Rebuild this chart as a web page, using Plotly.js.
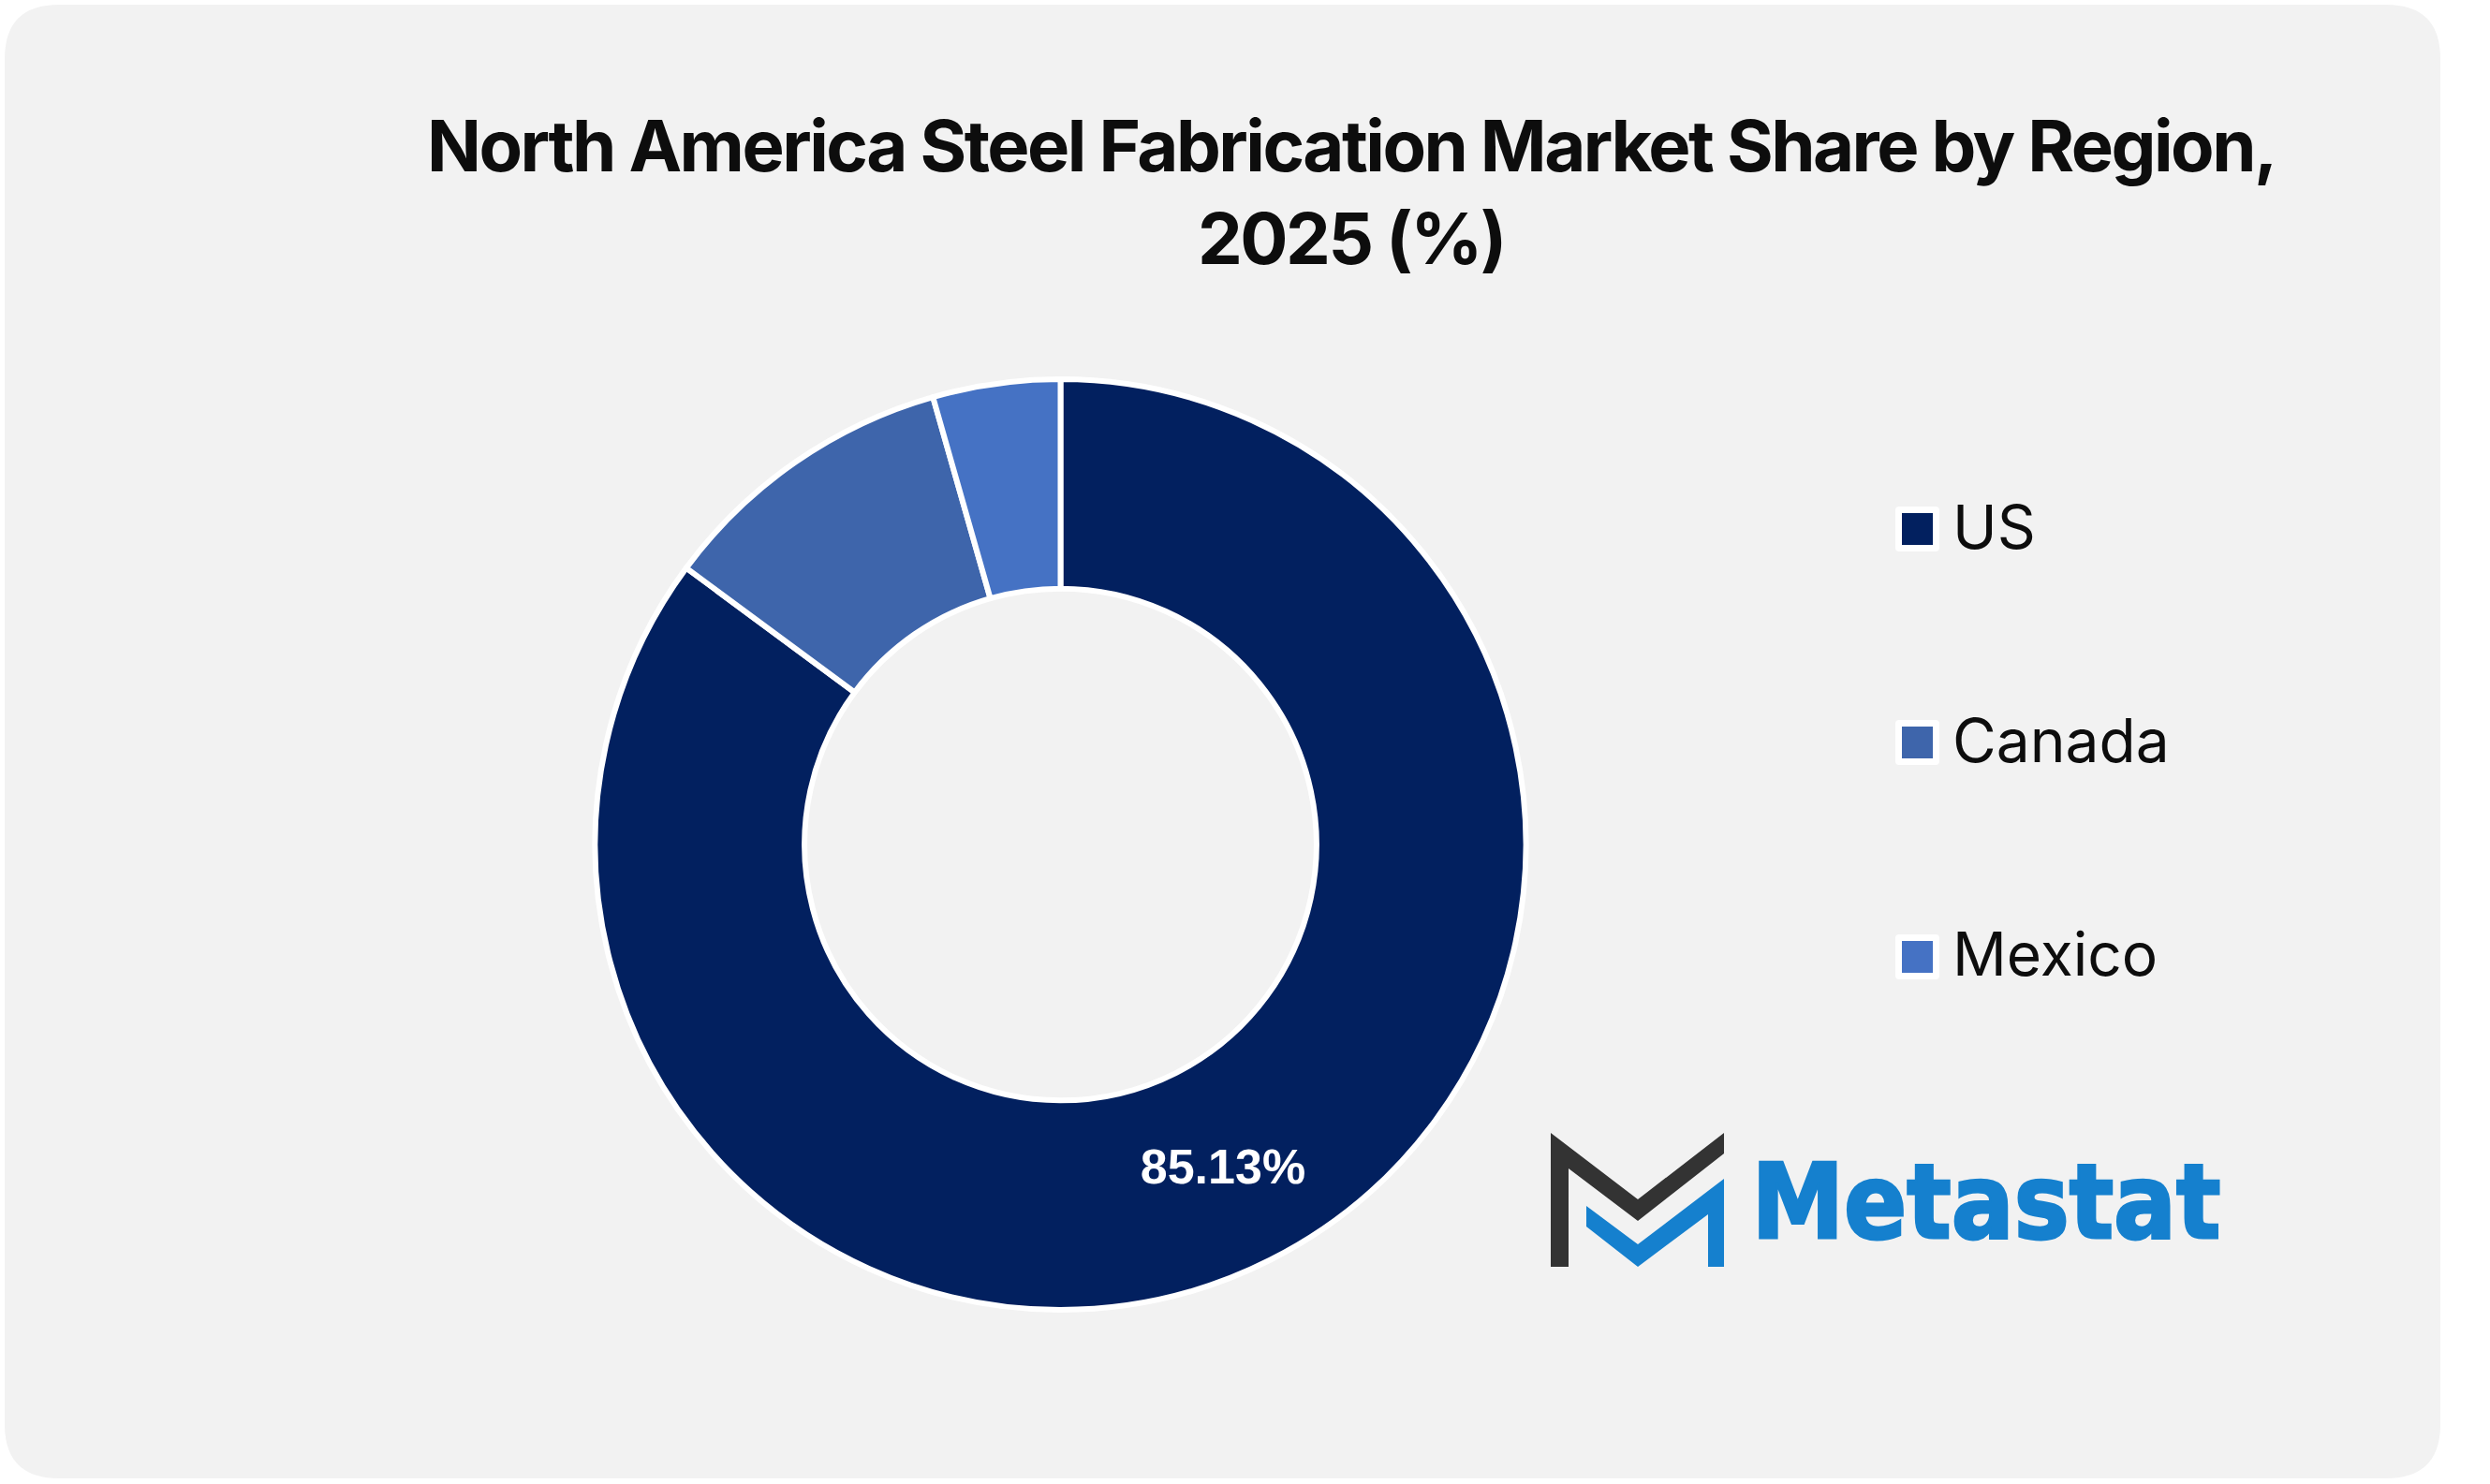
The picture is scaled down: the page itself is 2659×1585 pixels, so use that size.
<!DOCTYPE html>
<html>
<head>
<meta charset="utf-8">
<script src="https://cdn.plot.ly/plotly-3.0.1.min.js"></script>
<style>html,body{margin:0;padding:0;background:#fff;}#chart{width:2659px;height:1585px;}
.gtitle{letter-spacing:-2.5px;}</style>
</head>
<body>
<div id="chart"></div>
<script>
const regions = ['US', 'Canada', 'Mexico'];
const shares = [85.13, 10.45, 4.42];
const sliceColors = ['#02205F', '#3E65AB', '#4572C4'];
const sliceLabels = ['85.13%', '', ''];
const chartTitle = 'North America Steel Fabrication Market Share by Region,<br>2025 (%)';
const logoWord = 'Metastat';

const W = 2659, H = 1585;
const px = x => (x / W).toFixed(5);
const py = y => (1 - y / H).toFixed(5);
const poly = pts => 'M' + pts.map(p => px(p[0]) + ',' + py(p[1])).join('L') + 'Z';
function roundRect(x0, y0, x1, y1, r) {
  return 'M' + px(x0 + r) + ',' + py(y0) +
    'L' + px(x1 - r) + ',' + py(y0) + 'Q' + px(x1) + ',' + py(y0) + ' ' + px(x1) + ',' + py(y0 + r) +
    'L' + px(x1) + ',' + py(y1 - r) + 'Q' + px(x1) + ',' + py(y1) + ' ' + px(x1 - r) + ',' + py(y1) +
    'L' + px(x0 + r) + ',' + py(y1) + 'Q' + px(x0) + ',' + py(y1) + ' ' + px(x0) + ',' + py(y1 - r) +
    'L' + px(x0) + ',' + py(y0 + r) + 'Q' + px(x0) + ',' + py(y0) + ' ' + px(x0 + r) + ',' + py(y0) + 'Z';
}
const pathShape = (path, fill, layer) => ({type: 'path', xref: 'paper', yref: 'paper', path, fillcolor: fill, line: {width: 0}, layer: layer || 'above'});

const legendY = [565, 793, 1022];
const shapes = [pathShape(roundRect(5, 5, 2606, 1579, 58), '#F2F2F2', 'below')];
const annotations = [];
regions.forEach((name, i) => {
  const y = legendY[i];
  shapes.push(pathShape(roundRect(2024, y - 24, 2071, y + 24, 4), '#FFFFFF'));
  shapes.push(pathShape(poly([[2031, y - 17], [2064, y - 17], [2064, y + 17], [2031, y + 17]]), sliceColors[i]));
  annotations.push({xref: 'paper', yref: 'paper', x: 2083 / W, y: 1 - (y - 3) / H, xanchor: 'left', yanchor: 'middle', showarrow: false,
    text: name, font: {family: 'Inter, "Noto Sans", sans-serif', size: 64, color: '#0D0D0D'}});
});
// logo mark
shapes.push(pathShape(poly([[1656,1210],[1749,1281],[1841,1210],[1841,1232],[1749,1304],[1675,1248],[1675,1353],[1656,1353]]), '#333333'));
shapes.push(pathShape(poly([[1694,1288],[1749,1329],[1841,1259],[1841,1353],[1824,1353],[1824,1297],[1749,1353],[1694,1310]]), '#1580CE'));
annotations.push({xref: 'paper', yref: 'paper', x: 2121 / W, y: 1 - 1284 / H, xanchor: 'center', yanchor: 'middle', showarrow: false,
  text: '<b>' + logoWord + '</b>', font: {family: '"DejaVu Sans", sans-serif', size: 110, color: '#1580CE'}});

const data = [{
  type: 'pie', labels: regions, values: shares, text: sliceLabels, hole: 0.55, sort: false, direction: 'clockwise', rotation: 0,
  textinfo: 'text', textposition: 'inside', insidetextorientation: 'horizontal',
  textfont: {family: '"Liberation Sans", Arial, sans-serif', size: 52, color: '#FFFFFF', weight: 700},
  marker: {colors: sliceColors, line: {color: '#FFFFFF', width: 6}},
  domain: {x: [(1132.5 - 497) / W, (1132.5 + 497) / W], y: [1 - (902 + 497) / H, 1 - (902 - 497) / H]},
  showlegend: false
}];
const layout = {
  width: W, height: H, margin: {l: 0, r: 0, t: 0, b: 0}, paper_bgcolor: '#FFFFFF', plot_bgcolor: 'rgba(0,0,0,0)',
  showlegend: false,
  title: {text: '<b>' + chartTitle + '</b>', x: 1443 / W, xanchor: 'center', y: 1 - 183 / H, yanchor: 'middle',
    font: {family: 'Inter, sans-serif', size: 76, color: '#0D0D0D'}},
  shapes, annotations
};
Plotly.newPlot('chart', data, layout, {displayModeBar: false, staticPlot: true}).then(() => {
  document.querySelectorAll('.annotation-text').forEach(t => {
    if (t.textContent === logoWord) {
      t.setAttribute('textLength', '501');
      t.setAttribute('lengthAdjust', 'spacingAndGlyphs');
      t.style.stroke = '#1580CE';
      t.style.strokeWidth = '3px';
    }
  });
});
</script>
</body>
</html>
